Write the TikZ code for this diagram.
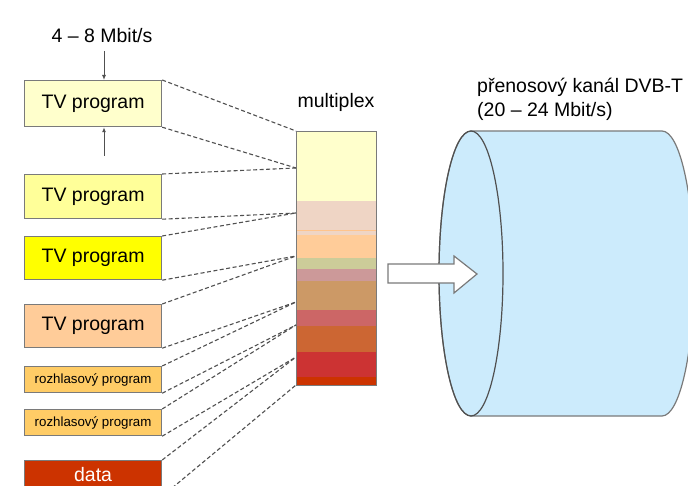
\documentclass[tikz,border=0pt]{standalone}
\usepackage{fontspec}
\setmainfont{Liberation Sans}
\usetikzlibrary{positioning,arrows.meta}

\definecolor{boxline}{HTML}{7A7A7A}
\definecolor{dashgray}{HTML}{505050}
\definecolor{tvpale}{HTML}{FFFFCC}
\definecolor{tvlight}{HTML}{FFFF99}
\definecolor{tvyellow}{HTML}{FFFF00}
\definecolor{tvpeach}{HTML}{FFCC99}
\definecolor{radio}{HTML}{FFCC66}
\definecolor{datared}{HTML}{CC3300}
\definecolor{chanblue}{HTML}{CCEBFC}
\definecolor{muxrose}{HTML}{EFD5C5}
\definecolor{muxstroke}{HTML}{FFC48C}
\definecolor{muxolive}{HTML}{CCCC99}
\definecolor{muxmauve}{HTML}{CC9999}
\definecolor{muxtan}{HTML}{CC9966}
\definecolor{muxcoral}{HTML}{CC6666}
\definecolor{muxrust}{HTML}{CC6633}
\definecolor{muxred}{HTML}{CC3333}

\tikzset{
  srcbox/.style={draw=boxline, line width=1.2pt, inner sep=0pt, anchor=north west,
    minimum width=137pt, font=\fontsize{19.5}{21}\selectfont},
  smallbox/.style={srcbox, minimum height=26pt, font=\fontsize{13.3}{15}\selectfont},
  feed/.style={draw=dashgray, line width=1.1pt, dash pattern=on 4pt off 2.5pt},
  rateline/.style={draw=dashgray, line width=1pt, -{Latex[length=5pt,width=4pt]}},
  lbl/.style={font=\fontsize{19.5}{24}\selectfont, inner sep=0pt}
}

\begin{document}
\begin{tikzpicture}[x=1pt, y=1pt]
\clip (0,0) rectangle (688,-486);
\fill[white] (0,0) rectangle (688,-486);

\def\xl{24}
\def\xm{296}
\def\xr{376}

% sources
\node[srcbox, fill=tvpale, minimum height=46pt] (tv1) at (\xl,-80) {TV program};
\node[srcbox, fill=tvlight, minimum height=44pt] (tv2) at (\xl,-174) {TV program};
\node[srcbox, fill=tvyellow, minimum height=43pt] (tv3) at (\xl,-236) {TV program};
\node[srcbox, fill=tvpeach, minimum height=43pt] (tv4) at (\xl,-304) {TV program};
\node[smallbox, fill=radio] (rad1) at (\xl,-366) {rozhlasový program};
\node[smallbox, fill=radio] (rad2) at (\xl,-409) {rozhlasový program};
\node[srcbox, fill=datared, text=white, minimum height=35pt] (data) at (\xl,-460) {\raisebox{8pt}{data}};

% rate
\node[lbl] (rate) at (102,-36) {4 -- 8 Mbit/s};
\coordinate (in) at (104,-51);
\coordinate (out) at (104,-156);
\draw[rateline] (in) -- (in |- tv1.north);
\draw[rateline] (out) -- (out |- tv1.south);

% multiplex
\fill[tvpale] (\xm,-131) rectangle (\xr,-201);
\fill[muxrose] (\xm,-201) rectangle (\xr,-235);
\fill[muxstroke] (\xm,-230) rectangle (\xr,-231.5);
\fill[tvpeach] (\xm,-235) rectangle (\xr,-258);
\fill[muxolive] (\xm,-258) rectangle (\xr,-269);
\fill[muxmauve] (\xm,-269) rectangle (\xr,-281);
\fill[muxtan] (\xm,-281) rectangle (\xr,-310);
\fill[muxcoral] (\xm,-310) rectangle (\xr,-326);
\fill[muxrust] (\xm,-326) rectangle (\xr,-352);
\fill[muxred] (\xm,-352) rectangle (\xr,-377);
\fill[datared] (\xm,-377) rectangle (\xr,-385);
\node[draw=boxline, line width=1.2pt, inner sep=0pt, minimum width=80pt, minimum height=254pt,
  anchor=north west] (mux) at (\xm,-131) {};
\node[lbl] (muxlbl) at (336,-102) {multiplex};

\coordinate (p1) at (\xm,-131);
\coordinate (p2) at (\xm,-168);
\coordinate (p3) at (\xm,-213);
\coordinate (p4) at (\xm,-256);
\coordinate (p5) at (\xm,-302);
\coordinate (p6) at (\xm,-325);
\coordinate (p7) at (\xm,-357);
\coordinate (p8) at (\xm,-385);

\draw[feed] (tv1.north east) -- (p1);
\draw[feed] (tv1.south east) -- (p2);
\draw[feed] (tv2.north east) -- (p2);
\draw[feed] (tv2.south east) -- (p3);
\draw[feed] (tv3.north east) -- (p3);
\draw[feed] (tv3.south east) -- (p4);
\draw[feed] (tv4.north east) -- (p4);
\draw[feed] (tv4.south east) -- (p5);
\draw[feed] (rad1.north east) -- (p5);
\draw[feed] (rad1.south east) -- (p6);
\draw[feed] (rad2.north east) -- (p6);
\draw[feed] (rad2.south east) -- (p7);
\draw[feed] (data.north east) -- (p7);
\draw[feed] (data.south east) -- (p8);

% channel
\draw[draw=boxline, line width=1.2pt, fill=chanblue] (471,-131) -- (662,-131)
  arc[start angle=90, end angle=-90, x radius=32, y radius=142.5] -- (471,-416)
  arc[start angle=270, end angle=90, x radius=32, y radius=142.5] -- cycle;
\draw[draw=dashgray, line width=1.2pt] (471,-273.5) ellipse [x radius=32, y radius=142.5];
\node[lbl, anchor=north west, align=left] (chan) at (477,-78) {přenosový kanál DVB-T\\(20 -- 24 Mbit/s)};

% arrow into channel
\draw[draw=boxline, line width=1.2pt, fill=white] (388,-264) -- (454,-264) -- (454,-256)
  -- (477,-274) -- (454,-293) -- (454,-283) -- (388,-283) -- cycle;
\end{tikzpicture}
\end{document}
